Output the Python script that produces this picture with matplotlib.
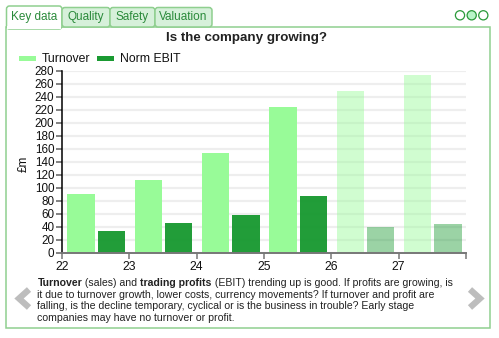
import matplotlib.pyplot as plt
from matplotlib.patches import FancyBboxPatch, Rectangle, Circle

plt.rcParams['font.family'] = ['Liberation Sans', 'DejaVu Sans']

# data
years = [22, 23, 24, 25, 26, 27]
turnover = [90, 112, 153, 224, 249, 273]
ebit = [33, 46, 58, 87, 40, 44]
forecast = [False, False, False, False, True, True]

tabs = ['Key data', 'Quality', 'Safety', 'Valuation']
blurb = [
    [('Turnover', 'bold'), (' (sales) and ', 'normal'), ('trading profits', 'bold'),
     (' (EBIT) trending up is good. If profits are growing, is', 'normal')],
    [('it due to turnover growth, lower costs, currency movements? If turnover and profit are', 'normal')],
    [('falling, is the decline temporary, cyclical or is the business in trouble? Early stage', 'normal')],
    [('companies may have no turnover or profit.', 'normal')],
]

turn_col = '#98fb98'
ebit_col = '#1a9a32'
border = '#8fcf8f'
tab_fill = '#d6f0da'
tab_text = '#2a8a3a'

W, H = 499, 338
fig = plt.figure(figsize=(W / 100, H / 100), dpi=100)

# background layer in pixel coords
bg = fig.add_axes([0, 0, 1, 1])
bg.set_xlim(0, W)
bg.set_ylim(H, 0)
bg.axis('off')

# panel
bg.add_patch(Rectangle((6.5, 27), 483.5, 300.5, fill=False, ec=border, lw=1.1))

# tabs
tab_x = [(6.5, 62), (62, 110), (110, 155), (155, 212)]
for i, (name, (x0, x1)) in enumerate(zip(tabs, tab_x)):
    active = i == 0
    top = 6 if active else 7.5
    bg.add_patch(FancyBboxPatch((x0, top), x1 - x0, 27 - top + (2 if active else 0),
                                boxstyle='round,pad=0,rounding_size=3',
                                fc='white' if active else tab_fill, ec=border, lw=1.1))
    bg.text((x0 + x1) / 2, 17, name, ha='center', va='center', fontsize=8.5, color=tab_text)
# hide the line under the active tab
bg.add_patch(Rectangle((7.2, 25.5), 54.2, 3, fc='white', ec='none'))

# page dots
for i, cx in enumerate([460, 471.7, 483.3]):
    bg.add_patch(Circle((cx, 15.3), 4.6, fc='#b8f5c8' if i == 1 else 'white',
                        ec='#2a9a3a', lw=0.9))

# title
bg.text(247, 38.5, 'Is the company growing?', ha='center', va='center',
        fontsize=9.6, fontweight='bold', color='#222222')

# legend
bg.add_patch(Rectangle((19.5, 56), 16.5, 4.5, fc=turn_col, ec='none'))
bg.text(42, 58.5, 'Turnover', ha='left', va='center', fontsize=8.8, color='#111111')
bg.add_patch(Rectangle((97.5, 56), 16.5, 4.5, fc=ebit_col, ec='none'))
bg.text(120, 58.5, 'Norm EBIT', ha='left', va='center', fontsize=8.8, color='#111111')

# y label
bg.text(24, 164, '£m', rotation=90, ha='center', va='center', fontsize=8.5, color='#111111')

# arrows
bg.plot([29, 19, 29], [289.5, 298.5, 307.5], color='#bdbdbd', lw=4.5, solid_capstyle='butt',
        solid_joinstyle='miter')
bg.plot([470, 480, 470], [289.5, 298.5, 307.5], color='#bdbdbd', lw=4.5, solid_capstyle='butt',
        solid_joinstyle='miter')

# description text
line_y = [282.8, 294.6, 306.4, 318.2]
for ly, parts in zip(line_y, blurb):
    prev = None
    for s, w in parts:
        if prev is None:
            prev = bg.text(37.5, ly, s, ha='left', va='center', fontsize=7.6,
                           fontweight=w, color='#222222')
        else:
            prev = bg.annotate(s, xy=(1, 0), xycoords=prev, ha='left', va='bottom',
                               fontsize=7.6, fontweight=w, color='#222222')

# chart axes
ax = fig.add_axes([62 / W, (H - 252.7) / H, 404 / W, 182 / H])
ax.set_zorder(2)
ax.patch.set_alpha(0)

for yr, t, e, f in zip(years, turnover, ebit, forecast):
    a = 0.45 if f else 1.0
    ax.bar(yr + 0.08, t, width=0.405, align='edge', color=turn_col, alpha=a, zorder=3)
    ax.bar(yr + 0.53, e, width=0.405, align='edge', color=ebit_col, alpha=a * 0.97, zorder=3)

ax.set_xlim(22, 28)
ax.set_ylim(0, 280)
ax.set_yticks(range(0, 281, 20))
ax.set_xticks(range(22, 29))
ax.set_xticklabels([str(y) for y in years] + [''])
ax.yaxis.grid(True, color='#eeeeee', lw=1.6, zorder=0)
ax.set_axisbelow(True)

for s in ['top', 'right']:
    ax.spines[s].set_visible(False)
ax.spines['left'].set_color('black')
ax.spines['left'].set_linewidth(1.1)
ax.spines['bottom'].set_color('#777777')
ax.spines['bottom'].set_linewidth(1.4)
ax.spines['bottom'].set_zorder(4)

ax.tick_params(axis='y', length=4.5, width=1.3, color='#777777', labelsize=8.4, pad=1,
               labelcolor='#111111')
ax.tick_params(axis='x', length=4.5, width=1.1, color='#777777', labelsize=8.8, pad=1.5,
               labelcolor='#111111')
xt = ax.xaxis.get_major_ticks()
xt[0].tick1line.set_color('black')
xt[-1].tick1line.set_color('black')

fig.savefig('out.png', dpi=100)
